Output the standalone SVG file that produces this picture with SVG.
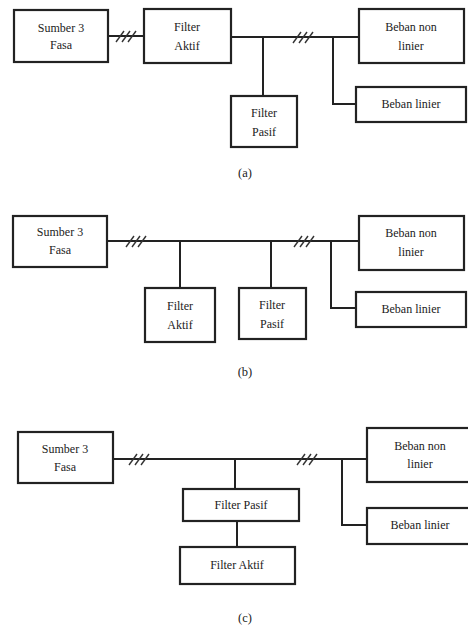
<svg xmlns="http://www.w3.org/2000/svg" width="468" height="628" viewBox="0 0 468 628">
<style>
.box{fill:#fff;stroke:#222;stroke-width:2.2}
.w{fill:none;stroke:#222;stroke-width:2}
.h{fill:none;stroke:#333;stroke-width:1.4}
text{font-family:'Liberation Serif','Times New Roman','DejaVu Serif',serif;font-size:12px;fill:#222;text-anchor:middle}
.cap{font-size:12.5px}
</style>
<defs>
<g id="hash"><line class="h" x1="-11" y1="6" x2="-3" y2="-5"/><line class="h" x1="-5" y1="6" x2="3" y2="-5"/><line class="h" x1="1" y1="6" x2="9" y2="-5"/></g>
</defs>
<rect width="468" height="628" fill="#fff"/>
<g id="connectors">
<line class="w" x1="108" y1="36" x2="144" y2="36"/>
<line class="w" x1="231" y1="37" x2="359" y2="37"/>
<line class="w" x1="263" y1="37" x2="263" y2="96"/>
<polyline class="w" points="333,37 333,104 356,104"/>
<use href="#hash" x="127" y="36"/>
<use href="#hash" x="304" y="37"/>
<line class="w" x1="107" y1="241" x2="359" y2="241"/>
<line class="w" x1="180" y1="241" x2="180" y2="288"/>
<line class="w" x1="271" y1="241" x2="271" y2="288"/>
<polyline class="w" points="331,241 331,308 356,308"/>
<use href="#hash" x="137" y="241"/>
<use href="#hash" x="305" y="241"/>
<line class="w" x1="113" y1="459" x2="367" y2="459"/>
<line class="w" x1="235" y1="459" x2="235" y2="489"/>
<line class="w" x1="237" y1="521" x2="237" y2="547"/>
<polyline class="w" points="342,459 342,525 367,525"/>
<use href="#hash" x="140" y="459"/>
<use href="#hash" x="308" y="459"/>
</g>
<g id="a-sumber"><rect class="box" x="14" y="10" width="94" height="52"/><text x="61" y="32">Sumber 3</text><text x="61" y="49">Fasa</text></g>
<g id="a-aktif"><rect class="box" x="144" y="9" width="87" height="54"/><text x="187" y="31">Filter</text><text x="187" y="50">Aktif</text></g>
<g id="a-pasif"><rect class="box" x="231" y="96" width="66" height="51"/><text x="264" y="117">Filter</text><text x="264" y="136">Pasif</text></g>
<g id="a-nonlinier"><rect class="box" x="359" y="9" width="105" height="54"/><text x="411" y="31">Beban non</text><text x="411" y="50">linier</text></g>
<g id="a-linier"><rect class="box" x="356" y="87" width="110" height="35"/><text x="411" y="108">Beban linier</text></g>
<text class="cap" x="245" y="177">(a)</text>
<g id="b-sumber"><rect class="box" x="13" y="216" width="94" height="51"/><text x="60" y="236">Sumber 3</text><text x="60" y="254">Fasa</text></g>
<g id="b-aktif"><rect class="box" x="145" y="288" width="70" height="54"/><text x="180" y="310">Filter</text><text x="180" y="329">Aktif</text></g>
<g id="b-pasif"><rect class="box" x="239" y="288" width="67" height="51"/><text x="272" y="309">Filter</text><text x="272" y="328">Pasif</text></g>
<g id="b-nonlinier"><rect class="box" x="359" y="216" width="105" height="54"/><text x="411" y="237">Beban non</text><text x="411" y="256">linier</text></g>
<g id="b-linier"><rect class="box" x="356" y="292" width="110" height="35"/><text x="411" y="313">Beban linier</text></g>
<text class="cap" x="245" y="376">(b)</text>
<g id="c-sumber"><rect class="box" x="18" y="432" width="95" height="51"/><text x="65" y="453">Sumber 3</text><text x="65" y="471">Fasa</text></g>
<g id="c-pasif"><rect class="box" x="183" y="489" width="116" height="32"/><text x="241" y="509">Filter Pasif</text></g>
<g id="c-aktif"><rect class="box" x="180" y="547" width="115" height="37"/><text x="237" y="569">Filter Aktif</text></g>
<g id="c-nonlinier"><rect class="box" x="367" y="428" width="106" height="54"/><text x="420" y="450">Beban non</text><text x="420" y="468">linier</text></g>
<g id="c-linier"><rect class="box" x="367" y="508" width="106" height="36"/><text x="420" y="529">Beban linier</text></g>
<text class="cap" x="245" y="622">(c)</text>
</svg>
